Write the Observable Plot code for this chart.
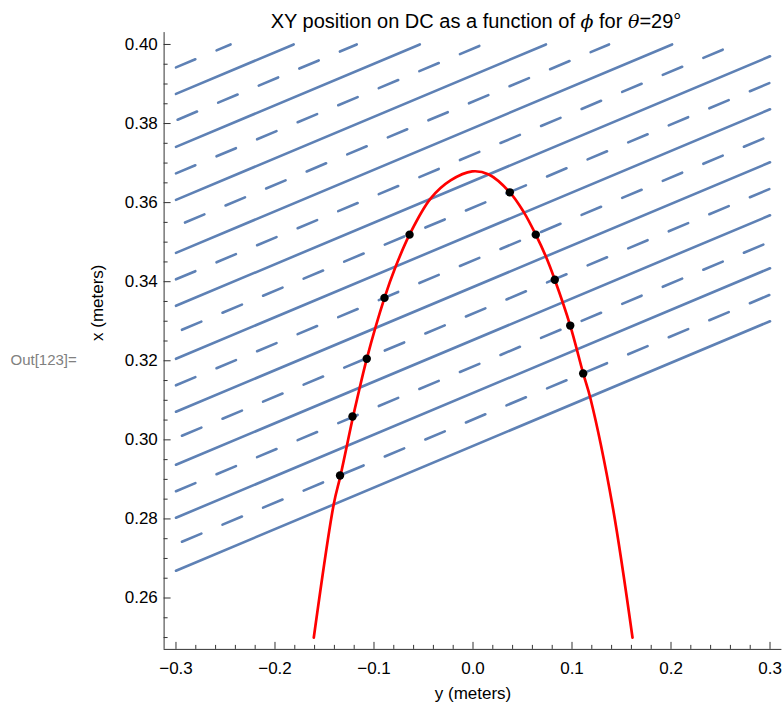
<!DOCTYPE html>
<html>
<head>
<meta charset="utf-8">
<script src="https://cdn.jsdelivr.net/npm/d3@7"></script>
<script src="https://cdn.jsdelivr.net/npm/@observablehq/plot@0.6"></script>
<style>
  body { margin: 0; background: #fff; }
  #wrap { position: relative; width: 783px; height: 710px; font-family: "Liberation Sans", Arial, sans-serif; }
  #title { position: absolute; top: 11px; left: 476px; transform: translateX(-50%); white-space: nowrap;
           font-size: 20px; line-height: 20px; color: #000; }
  #title i { font-family: "DejaVu Serif", "Liberation Serif", serif; font-size: 19px; }
</style>
</head>
<body>
<div id="wrap">
  <div id="chart"></div>
  <div id="title">XY position on DC as a function of <i>ϕ</i> for <i>θ</i>=29°</div>
</div>
<script>
// ---- tick values ----
const xMajorTicks = [-0.3, -0.2, -0.1, 0.0, 0.1, 0.2, 0.3];
const xMinorTicks = [-0.28, -0.26, -0.24, -0.22, -0.18, -0.16, -0.14, -0.12, -0.08, -0.06, -0.04, -0.02,
                     0.02, 0.04, 0.06, 0.08, 0.12, 0.14, 0.16, 0.18, 0.22, 0.24, 0.26, 0.28];
const yMajorTicks = [0.26, 0.28, 0.30, 0.32, 0.34, 0.36, 0.38, 0.40];
const yMinorTicks = [0.250, 0.255, 0.265, 0.270, 0.275, 0.285, 0.290, 0.295, 0.305, 0.310, 0.315,
                     0.325, 0.330, 0.335, 0.345, 0.350, 0.355, 0.365, 0.370, 0.375, 0.385, 0.390, 0.395];

// ---- wire lines: x (vertical) at y = -0.3 (left) and y = +0.3 (right) ----
const solidLeft  = [0.2669, 0.2803, 0.2937, 0.3071, 0.3205, 0.3339, 0.3473, 0.3607, 0.3741, 0.3875];
const solidRight = [0.3300, 0.3434, 0.3568, 0.3702, 0.3836, 0.3970, 0.4104, 0.4238, 0.4372, 0.4506];
const dashLeft   = [0.2736, 0.2870, 0.3004, 0.3138, 0.3272, 0.3406, 0.3540, 0.3674, 0.3808, 0.3942];
const dashRight  = [0.3367, 0.3501, 0.3635, 0.3769, 0.3903, 0.4037, 0.4171, 0.4305, 0.4439, 0.4573];
const dashPhase  = [37.5, 0, 37.5, 0, 37.5, 0, 34.2, 0, 42.2, 0];

// ---- red trajectory (horizontal y, vertical x) ----
const curveY = [-0.1608, -0.1406, -0.1338, -0.1220, -0.1170, -0.1073, -0.0894, -0.0783, -0.0641, -0.0429,
                -0.0227, -0.0008, 0.0160, 0.0372, 0.0513, 0.0634, 0.0732, 0.0826, 0.0982, 0.1113,
                0.1187, 0.1406, 0.1611];
const curveX = [0.2500, 0.2838, 0.2910, 0.3049, 0.3104, 0.3205, 0.3359, 0.3437, 0.3519, 0.3610,
                0.3656, 0.3679, 0.3671, 0.3626, 0.3576, 0.3519, 0.3466, 0.3405, 0.3289, 0.3168,
                0.3104, 0.2838, 0.2500];

// ---- black hit points ----
const dotY = [-0.1343, -0.1217, -0.1073, -0.0894, -0.0641, 0.0372, 0.0634, 0.0826, 0.0982, 0.1113];
const dotX = [0.2910, 0.3059, 0.3205, 0.3359, 0.3519, 0.3626, 0.3519, 0.3405, 0.3289, 0.3168];

// plot range (lines are clipped to it, axes carry a small padding)
const yRange = [-0.3, 0.3];
const xTop = 0.40;
const hDomain = [-0.312, 0.312];
const vDomain = [0.247, 0.403];

function segment(l, r) {
  const pts = [{h: yRange[0], v: l}];
  if (r <= xTop) pts.push({h: yRange[1], v: r});
  else pts.push({h: yRange[0] + (yRange[1] - yRange[0]) * (xTop - l) / (r - l), v: xTop});
  return pts;
}

const blue = "#5E81B5";
const axisColor = "#333";
const solidData = solidLeft.flatMap((l, i) => segment(l, solidRight[i]).map(p => ({...p, id: i})));
const curve = curveY.map((h, i) => ({h, v: curveX[i]}));
const dots = dotY.map((h, i) => ({h, v: dotX[i]}));

const dashMarks = dashLeft.map((l, i) =>
  Plot.line(segment(l, dashRight[i]), {
    x: "h", y: "v", stroke: blue, strokeWidth: 2.6,
    strokeDasharray: "21,23", strokeDashoffset: dashPhase[i]
  })
);

const blank = () => "";

const chart = Plot.plot({
  width: 783,
  height: 710,
  marginLeft: 163.6,
  marginRight: 1.6,
  marginTop: 32.1,
  marginBottom: 61.1,
  style: {fontFamily: "'Liberation Sans', Arial, sans-serif", fontSize: "17px", background: "#fff", color: "#000"},
  x: {domain: hDomain},
  y: {domain: vDomain},
  marks: [
    Plot.line(solidData, {x: "h", y: "v", z: "id", stroke: blue, strokeWidth: 2.6}),
    ...dashMarks,
    Plot.line(curve, {x: "h", y: "v", stroke: "#ff0000", strokeWidth: 2.7, curve: "catmull-rom"}),
    Plot.dot(dots, {x: "h", y: "v", r: 4.2, fill: "#000", stroke: null}),
    // axis lines
    Plot.ruleY([vDomain[0]], {stroke: axisColor, strokeWidth: 1}),
    Plot.ruleX([hDomain[0]], {stroke: axisColor, strokeWidth: 1}),
    // tick labels
    Plot.axisX(xMajorTicks, {anchor: "bottom", tickSize: 0, tickPadding: 13, tickFormat: d3.format(".1f"),
                             label: null, fontSize: 17}),
    Plot.axisY(yMajorTicks, {anchor: "left", tickSize: 0, tickPadding: 6.3, tickFormat: d3.format(".2f"),
                             label: null, fontSize: 17}),
    // inward ticks (shifted back inside the frame)
    Plot.axisX(xMajorTicks, {anchor: "bottom", tickSize: 7, dy: -7, tickFormat: blank, label: null, stroke: axisColor}),
    Plot.axisX(xMinorTicks, {anchor: "bottom", tickSize: 4, dy: -4, tickFormat: blank, label: null, stroke: axisColor}),
    Plot.axisY(yMajorTicks, {anchor: "left", tickSize: 7, dx: 7, tickFormat: blank, label: null, stroke: axisColor}),
    Plot.axisY(yMinorTicks, {anchor: "left", tickSize: 4, dx: 4, tickFormat: blank, label: null, stroke: axisColor}),
    // axis titles
    Plot.text(["y (meters)"], {frameAnchor: "bottom", dy: 44, lineAnchor: "middle", fontSize: 17, fill: "#000"}),
    Plot.text(["x (meters)"], {frameAnchor: "left", dx: -66.6, rotate: -90, lineAnchor: "middle", fontSize: 17, fill: "#000"}),
    Plot.text(["Out[123]="], {frameAnchor: "left", dx: -153.6, dy: 19.5, textAnchor: "start", lineAnchor: "middle",
                              fontSize: 15, fill: "#808080"})
  ]
});
document.getElementById("chart").appendChild(chart);
</script>
</body>
</html>
